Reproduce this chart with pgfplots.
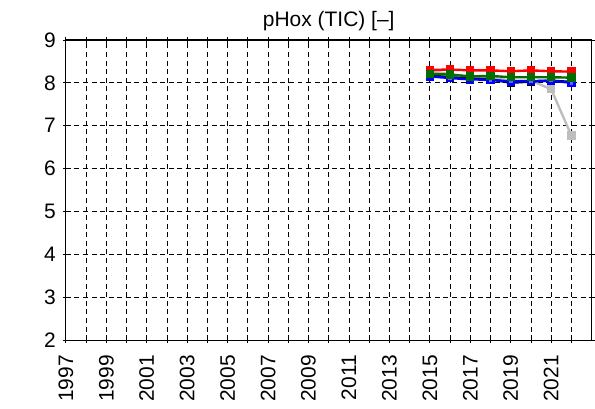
\documentclass[border=0pt]{standalone}
\usepackage{pgfplots}
\pgfplotsset{compat=1.18}
\usepackage{fontspec}
\setmainfont{Liberation Sans}
\definecolor{dgreen}{RGB}{0,110,0}
\definecolor{lgray}{RGB}{190,190,190}
\begin{document}
\begin{tikzpicture}
\begin{axis}[name=ax,
  scale only axis, width=263.5pt, height=150.5pt,
  font=\fontsize{10.5}{12}\selectfont,
  /pgf/number format/assume math mode=true,
  xmin=1997, xmax=2023, ymin=2, ymax=9,
  xtick={1997,1999,...,2021}, minor xtick={1998,2000,...,2022},
  ytick={2,3,...,9},
  xticklabel style={rotate=90, anchor=east, /pgf/number format/1000 sep={}},
  xticklabel shift=2.5pt,
  grid=both,
  major grid style={black, dash pattern=on 2.5pt off 1.8pt, line width=0.4pt},
  minor grid style={black, dash pattern=on 2.5pt off 1.8pt, line width=0.4pt},
  tick style={black, line width=0.4pt},
  major tick length=3pt, minor tick length=3pt,
  tick align=center,
  axis line style={line width=0.6pt},
  title={pHox (TIC) [–]},
  title style={yshift=-5pt},
  every axis plot/.append style={line width=1.2pt, mark=square*, mark size=1.5pt},
]
\addplot[color=lgray, mark options={fill=lgray}] coordinates {(2015,8.28)(2016,8.20)(2017,8.15)(2018,8.12)(2019,8.05)(2020,8.05)(2021,7.85)(2022,6.77)};
\addplot[color=black, mark options={fill=black!70}] coordinates {(2015,8.17)(2016,8.13)(2017,8.10)(2018,8.08)(2019,8.00)(2020,8.03)(2021,8.05)(2022,8.02)};
\addplot[color=blue, mark options={fill=blue!60}] coordinates {(2015,8.15)(2016,8.11)(2017,8.08)(2018,8.07)(2019,8.03)(2020,8.04)(2021,8.05)(2022,8.00)};
\addplot[color=red, mark options={fill=red}] coordinates {(2015,8.30)(2016,8.31)(2017,8.29)(2018,8.29)(2019,8.27)(2020,8.29)(2021,8.27)(2022,8.26)};
\addplot[color=dgreen, mark options={fill=dgreen}] coordinates {(2015,8.21)(2016,8.19)(2017,8.15)(2018,8.16)(2019,8.13)(2020,8.13)(2021,8.13)(2022,8.12)};
\end{axis}
\path ([xshift=-33pt,yshift=-29.5pt]ax.south west) rectangle ([xshift=1pt,yshift=20pt]ax.north east);
\end{tikzpicture}
\end{document}
